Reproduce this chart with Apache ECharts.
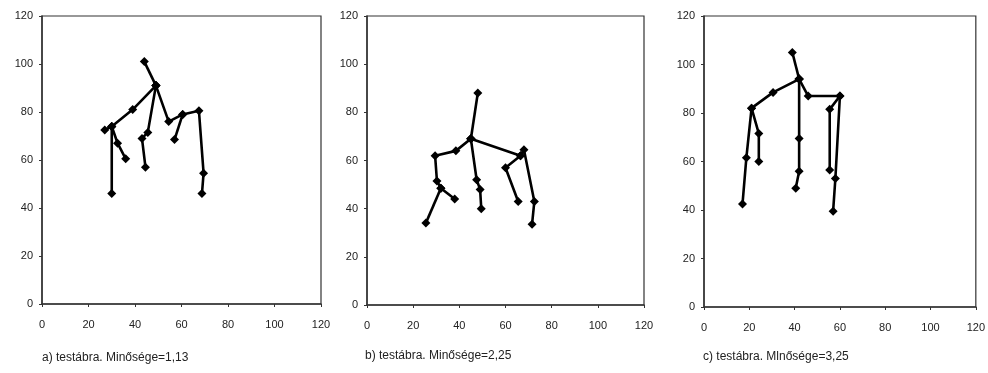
<!DOCTYPE html>
<html>
<head>
<meta charset="utf-8">
<script src="https://cdn.jsdelivr.net/npm/echarts@6/dist/echarts.min.js"></script>
<style>html,body{margin:0;padding:0;background:#fff}#c{width:988px;height:373px}</style>
</head>
<body>
<div id="c"></div>
<script>
// Axis ticks (shared by all three panels)
var axisTicks = [0, 20, 40, 60, 80, 100, 120];

// Captions
var captions = ['a) testábra. Minősége=1,13', 'b) testábra. Minősége=2,25', 'c) testábra. Mlnősége=3,25'];

// Panel a: stick-figure polylines [x, y]
var aHead   = [[44, 101], [49, 91]];
var aLeft   = [[49, 91], [39, 81], [30, 74], [27, 72.5]];
var aLeftV  = [[30, 74], [30, 46]];
var aLeftArm= [[30, 74], [32.5, 67], [36, 60.5]];
var aMid    = [[49, 91], [45.5, 71.5], [43, 69], [44.5, 57]];
var aRight  = [[49, 91], [54.5, 76], [60.5, 79], [67.5, 80.5], [69.5, 54.5], [68.8, 46]];
var aRightB = [[60.5, 79], [57, 68.5]];

// Panel b
var bHead   = [[48, 88], [45, 69]];
var bLeft   = [[45, 69], [38.5, 64], [29.5, 62], [30.3, 51.5], [32, 48.5], [38, 44]];
var bLeftB  = [[32, 48.5], [25.5, 34]];
var bMid    = [[45, 69], [47.5, 52], [49, 48], [49.5, 40]];
var bRight  = [[45, 69], [66.5, 62], [68, 64.5], [72.5, 43], [71.5, 33.5]];
var bRightB = [[66.5, 62], [60, 57], [65.5, 43]];

// Panel c
var cHead   = [[39, 105], [42, 94]];
var cLeft   = [[42, 94], [30.5, 88.5], [21, 82], [18.7, 61.5], [17, 42.5]];
var cLeftB  = [[21, 82], [24.2, 71.5], [24.2, 60]];
var cMid    = [[42, 94], [42, 69.5], [42, 56], [40.5, 49]];
var cRight  = [[42, 94], [46, 87], [60, 87], [58, 53], [57, 39.5]];
var cRightB = [[60, 87], [55.5, 81.5], [55.5, 56.5]];

var panels = [
  [aHead, aLeft, aLeftV, aLeftArm, aMid, aRight, aRightB],
  [bHead, bLeft, bLeftB, bMid, bRight, bRightB],
  [cHead, cLeft, cLeftB, cMid, cRight, cRightB]
];

var grids = [
  {left: 42, top: 16, width: 279, height: 288},
  {left: 367, top: 16, width: 277, height: 289},
  {left: 704, top: 16, width: 274, height: 291}
];
var captionPos = [[42, 352], [365, 350], [703, 351]];
var font = '"Liberation Sans", Arial, sans-serif';

var axisCommon = {
  type: 'value', min: 0, max: 120, interval: 20,
  axisLine: {show: true, onZero: false, lineStyle: {color: '#333', width: 1.5}},
  axisTick: {show: true, inside: false, length: 3, lineStyle: {color: '#333'}},
  splitLine: {show: false},
  axisLabel: {color: '#222', fontSize: 11, fontFamily: font, fontWeight: 'normal'}
};

var option = {
  animation: false,
  backgroundColor: '#fff',
  grid: grids.map(function (g) {
    return Object.assign({show: true, borderColor: '#333', borderWidth: 1.2, backgroundColor: 'transparent'}, g);
  }),
  xAxis: grids.map(function (g, i) {
    var a = JSON.parse(JSON.stringify(axisCommon));
    a.gridIndex = i; a.axisLabel.margin = 15;
    return a;
  }),
  yAxis: grids.map(function (g, i) {
    var a = JSON.parse(JSON.stringify(axisCommon));
    a.gridIndex = i; a.axisLabel.margin = 9;
    return a;
  }),
  title: captions.map(function (t, i) {
    return {text: t, left: captionPos[i][0], top: captionPos[i][1], padding: 0,
      textStyle: {fontSize: 12, fontWeight: 'normal', color: '#222', fontFamily: font}};
  }),
  series: []
};

panels.forEach(function (lines, pi) {
  lines.forEach(function (pts) {
    option.series.push({
      type: 'line', xAxisIndex: pi, yAxisIndex: pi, data: pts,
      symbol: 'diamond', symbolSize: 9, showSymbol: true,
      lineStyle: {color: '#000', width: 2.6},
      itemStyle: {color: '#000'},
      silent: true
    });
  });
});

echarts.init(document.getElementById('c')).setOption(option);
</script>
</body>
</html>
